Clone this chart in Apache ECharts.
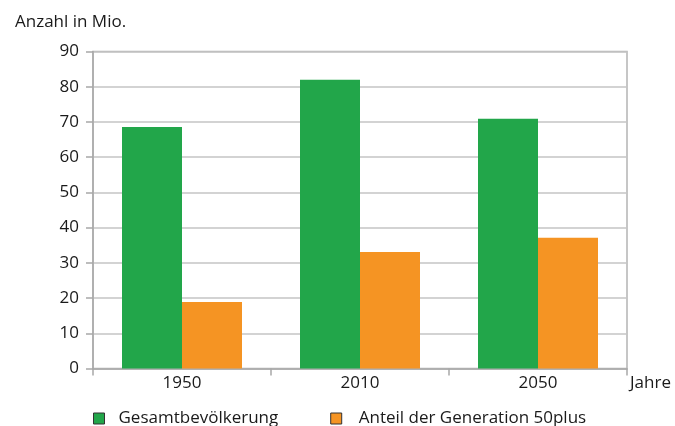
<!DOCTYPE html>
<html><head><meta charset="utf-8">
<script src="https://cdn.jsdelivr.net/npm/echarts@6/dist/echarts.min.js"></script>
<style>html,body{margin:0;padding:0;background:#fff}#c{width:675px;height:426px}</style>
</head><body><div id="c"></div>
<script>
const categories = ['1950', '2010', '2050'];
const gesamt = [68.6, 82.0, 70.9];
const anteil50 = [18.9, 33.1, 37.1];
const seriesNames = ['Gesamtbevölkerung', 'Anteil der Generation 50plus'];
const yTitle = 'Anzahl in Mio.';
const xTitle = 'Jahre';

const FONT = '"Open Sans", "Noto Sans", sans-serif';
const FS = 17;
const TXT = '#1a1a1a';
const chart = echarts.init(document.getElementById('c'), null, {renderer: 'canvas'});
chart.setOption({
  animation: false,
  textStyle: {fontFamily: FONT},
  title: {text: yTitle, left: 10, top: 9, textStyle: {fontFamily: FONT, fontSize: FS, fontWeight: 'normal', color: TXT}},
  grid: {left: 93, right: 48, top: 51.5, bottom: 57.5, show: true, borderColor: '#b4b4b4', borderWidth: 1.5, backgroundColor: 'transparent'},
  legend: {
    left: 88, top: 405, itemWidth: 11, itemHeight: 11, itemGap: 52,
    icon: 'rect',
    itemStyle: {borderColor: '#333', borderWidth: 1},
    textStyle: {fontFamily: FONT, fontSize: FS, color: TXT, padding: [0, 0, 0, 9]},
    data: [
      {name: seriesNames[0]},
      {name: seriesNames[1], textStyle: {padding: [0, 0, 0, 12]}}
    ]
  },
  xAxis: {
    type: 'category', data: categories,
    name: xTitle, nameLocation: 'end', nameGap: 3,
    nameTextStyle: {fontFamily: FONT, fontSize: FS, color: TXT, align: 'left', verticalAlign: 'top', padding: [6, 0, 0, 0]},
    axisLine: {lineStyle: {color: '#a8a8a8', width: 1.5}},
    axisTick: {show: true, alignWithLabel: false, length: 7, lineStyle: {color: '#a8a8a8', width: 1.5}},
    axisLabel: {fontFamily: FONT, fontSize: FS, color: TXT, margin: 6}
  },
  yAxis: {
    type: 'value', min: 0, max: 90, interval: 10,
    axisLine: {show: true, lineStyle: {color: '#a8a8a8', width: 1.5}},
    axisTick: {show: true, length: 7, lineStyle: {color: '#a8a8a8', width: 1.5}},
    axisLabel: {fontFamily: FONT, fontSize: FS, color: TXT, margin: 14},
    splitLine: {show: true, lineStyle: {color: '#c4c4c4', width: 1.5}}
  },
  series: [
    {name: seriesNames[0], type: 'bar', data: gesamt, barWidth: 60, barGap: '0%', itemStyle: {color: '#22a64a'}},
    {name: seriesNames[1], type: 'bar', data: anteil50, barWidth: 60, barGap: '0%', itemStyle: {color: '#f59423'}}
  ]
});
</script></body></html>
